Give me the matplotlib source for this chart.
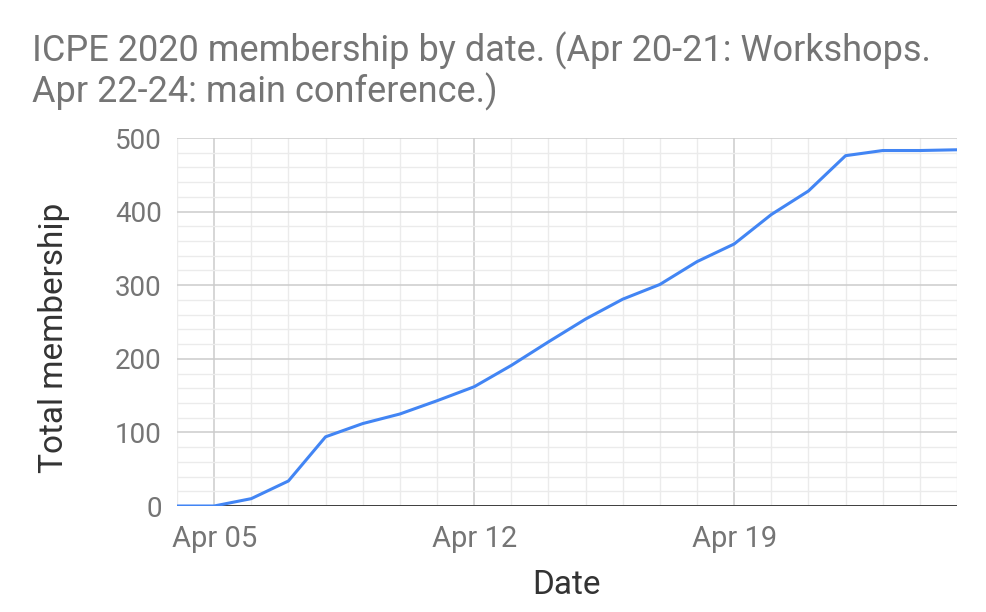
import numpy as np
import matplotlib.pyplot as plt
import matplotlib.dates as mdates
from matplotlib.ticker import MultipleLocator

plt.rcParams['font.family'] = ['Roboto', 'DejaVu Sans']

# daily totals
dates = np.array(['2020-04-04', '2020-04-05', '2020-04-06', '2020-04-07', '2020-04-08',
                  '2020-04-09', '2020-04-10', '2020-04-11', '2020-04-12', '2020-04-13',
                  '2020-04-14', '2020-04-15', '2020-04-16', '2020-04-17', '2020-04-18',
                  '2020-04-19', '2020-04-20', '2020-04-21', '2020-04-22', '2020-04-23',
                  '2020-04-24', '2020-04-25'], dtype='datetime64[D]')
members = [0, 0, 10, 34, 94, 112, 125, 143, 162, 191, 223, 254, 281, 301, 332,
           356, 396, 428, 476, 483, 483, 484]
major_ticks = np.array(['2020-04-05', '2020-04-12', '2020-04-19'], dtype='datetime64[D]')
major_labels = ['Apr 05', 'Apr 12', 'Apr 19']
title_lines = ['ICPE 2020 membership by date. (Apr 20-21: Workshops.',
               'Apr 22-24: main conference.)']

grey = '#757575'
fig = plt.figure(figsize=(9.86, 6.12), dpi=100)
ax = fig.add_axes([0.1795, 0.1732, 0.7911, 0.6013])

ax.plot(dates, members, color='#4285F4', linewidth=2.2, zorder=3)

ax.set_xlim(dates[0], dates[-1])
ax.set_ylim(0, 500)
ax.set_xticks(major_ticks)
ax.set_xticklabels(major_labels)
ax.xaxis.set_minor_locator(mdates.DayLocator())
ax.yaxis.set_major_locator(MultipleLocator(100))
ax.yaxis.set_minor_locator(MultipleLocator(20))

ax.grid(which='major', color='#cccccc', linewidth=1.1)
ax.grid(which='minor', color='#ebebeb', linewidth=1.0)
ax.set_axisbelow(True)
ax.axhline(0, color='#333333', linewidth=1.3, zorder=2)

for s in ax.spines.values():
    s.set_visible(False)
ax.tick_params(which='both', length=0)
ax.tick_params(axis='y', labelsize=20, labelcolor=grey, pad=11)
ax.tick_params(axis='x', labelsize=21, labelcolor=grey, pad=14)

ax.set_xlabel('Date', fontsize=24, color='#333333', labelpad=11)
ax.set_ylabel('Total membership', fontsize=24, color='#333333')
ax.yaxis.set_label_coords(-0.137, 0.456)

# title, two lines placed by baseline
fig.text(32 / 986, 1 - 61 / 612, title_lines[0], fontsize=26, color=grey,
         ha='left', va='baseline')
fig.text(32 / 986, 1 - 102 / 612, title_lines[1], fontsize=26, color=grey,
         ha='left', va='baseline')

fig.savefig('out.png', dpi=100)
